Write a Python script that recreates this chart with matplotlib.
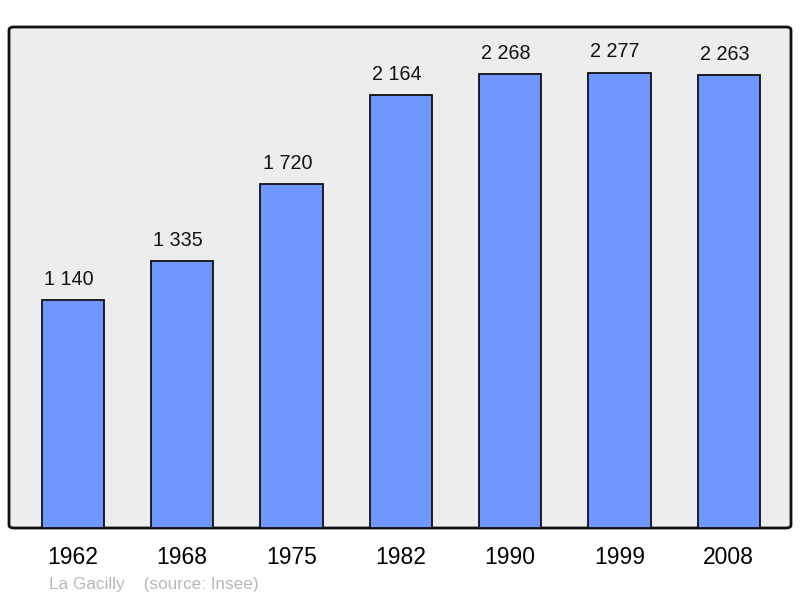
import matplotlib.pyplot as plt
import numpy as np
from matplotlib.patches import FancyBboxPatch

plt.rcParams['font.family'] = ['Liberation Sans', 'DejaVu Sans']

years = ['1962', '1968', '1975', '1982', '1990', '1999', '2008']
population = [1140, 1335, 1720, 2164, 2268, 2277, 2263]


def fmt(v):
    return '{:,}'.format(v).replace(',', ' ')


fig = plt.figure(figsize=(8, 5.98), dpi=100)
ax = fig.add_axes([9 / 800, 70 / 598, 782 / 800, 501 / 598])
ax.set_facecolor('none')

# background frame with slightly rounded corners
frame = FancyBboxPatch((0, 0), 1, 1, boxstyle='round,pad=0,rounding_size=0.006',
                       transform=ax.transAxes, facecolor='#ededed',
                       edgecolor='#111111', linewidth=2, zorder=0, clip_on=False)
ax.add_patch(frame)

x = np.arange(len(years))
ax.bar(x, population, width=0.57, color='#7096ff', edgecolor='#111111',
       linewidth=1.3, zorder=2)
for xi, v in zip(x, population):
    ax.annotate(fmt(v), (xi, v), xytext=(-3, 8), textcoords='offset points',
                ha='center', va='bottom', fontsize=14.2, color='#111111')

ax.set_xlim(-0.585, 6.57)
ax.set_ylim(0, 2505)
for s in ax.spines.values():
    s.set_visible(False)
ax.set_yticks([])
ax.set_xticks(x)
ax.set_xticklabels(years, fontsize=16.5)
ax.tick_params(axis='x', length=0, pad=13)

fig.text(49 / 800, 1 - 584 / 598, 'La Gacilly    (source: Insee)', fontsize=12.3,
         color='#b8b8b8', va='center', ha='left')

fig.savefig('out.png', dpi=100)
